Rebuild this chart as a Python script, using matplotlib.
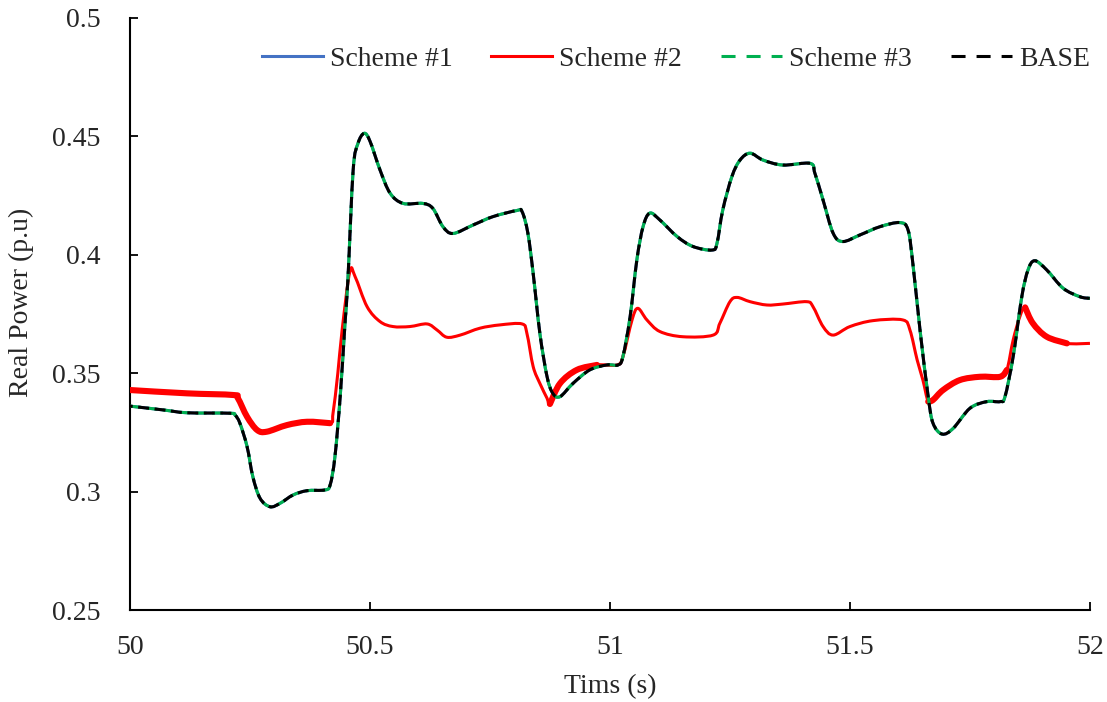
import numpy as np
import matplotlib
matplotlib.use("Agg")
import matplotlib.pyplot as plt
from matplotlib.ticker import FormatStrFormatter
from matplotlib.path import Path
from matplotlib.patches import PathPatch
from matplotlib.lines import Line2D

# time (s) and real power (p.u)
t_base = [50.000, 50.069, 50.119, 50.208, 50.219, 50.229, 50.244, 50.256, 50.271, 50.292,
          50.313, 50.340, 50.369, 50.406, 50.417, 50.427, 50.438, 50.448, 50.454, 50.465,
          50.475, 50.488, 50.500, 50.521, 50.542, 50.569, 50.610, 50.631, 50.652, 50.673,
          50.715, 50.756, 50.806, 50.817, 50.829, 50.840, 50.854, 50.869, 50.881, 50.896,
          50.923, 50.958, 50.994, 51.017, 51.027, 51.042, 51.056, 51.069, 51.083, 51.104,
          51.140, 51.173, 51.213, 51.223, 51.235, 51.254, 51.271, 51.292, 51.319, 51.360,
          51.417, 51.427, 51.444, 51.465, 51.485, 51.521, 51.563, 51.604, 51.621, 51.631,
          51.646, 51.663, 51.673, 51.692, 51.715, 51.750, 51.785, 51.813, 51.823, 51.840,
          51.858, 51.871, 51.885, 51.910, 51.944, 51.979, 52.000]
p_base = [0.3361, 0.3345, 0.3333, 0.3331, 0.3323, 0.3289, 0.3190, 0.3063, 0.2972, 0.2936,
          0.2951, 0.2986, 0.3004, 0.3007, 0.3028, 0.3147, 0.3401, 0.3711, 0.3894, 0.4358,
          0.4470, 0.4513, 0.4480, 0.4358, 0.4260, 0.4217, 0.4217, 0.4196, 0.4119, 0.4090,
          0.4126, 0.4161, 0.4187, 0.4182, 0.4091, 0.3922, 0.3668, 0.3485, 0.3415, 0.3401,
          0.3457, 0.3514, 0.3535, 0.3535, 0.3570, 0.3739, 0.3978, 0.4119, 0.4176, 0.4147,
          0.4077, 0.4035, 0.4020, 0.4049, 0.4189, 0.4330, 0.4400, 0.4429, 0.4400, 0.4379,
          0.4386, 0.4344, 0.4231, 0.4091, 0.4056, 0.4084, 0.4119, 0.4136, 0.4105, 0.3964,
          0.3682, 0.3401, 0.3289, 0.3243, 0.3267, 0.3352, 0.3380, 0.3380, 0.3401, 0.3570,
          0.3823, 0.3936, 0.3975, 0.3936, 0.3859, 0.3823, 0.3816]

# schemes 1 and 3 lie on top of the base case
p_s1 = p_base
p_s3 = p_base

t_s2 = [50.000, 50.119, 50.215, 50.225, 50.244, 50.265, 50.285, 50.327, 50.369, 50.417,
        50.423, 50.433, 50.442, 50.458, 50.469, 50.494, 50.521, 50.548, 50.583, 50.619,
        50.640, 50.660, 50.688, 50.729, 50.771, 50.817, 50.827, 50.840, 50.854, 50.869,
        50.875, 50.896, 50.931, 50.973, 51.015, 51.027, 51.046, 51.058, 51.077, 51.104,
        51.152, 51.215, 51.229, 51.250, 51.265, 51.292, 51.327, 51.360, 51.410, 51.423,
        51.444, 51.465, 51.500, 51.548, 51.610, 51.625, 51.640, 51.652, 51.663, 51.673,
        51.694, 51.729, 51.771, 51.813, 51.827, 51.840, 51.854, 51.865, 51.881, 51.910,
        51.952, 52.000]
p_s2 = [0.3429, 0.3415, 0.3408, 0.3394, 0.3316, 0.3260, 0.3253, 0.3281, 0.3295, 0.3289,
        0.3330, 0.3499, 0.3682, 0.3929, 0.3908, 0.3781, 0.3718, 0.3697, 0.3697, 0.3708,
        0.3682, 0.3652, 0.3661, 0.3690, 0.3704, 0.3708, 0.3668, 0.3528, 0.3457, 0.3394,
        0.3370, 0.3457, 0.3514, 0.3535, 0.3535, 0.3570, 0.3725, 0.3774, 0.3725, 0.3676,
        0.3654, 0.3661, 0.3711, 0.3802, 0.3820, 0.3802, 0.3788, 0.3792, 0.3802, 0.3781,
        0.3697, 0.3661, 0.3697, 0.3722, 0.3725, 0.3682, 0.3556, 0.3471, 0.3380, 0.3387,
        0.3429, 0.3471, 0.3485, 0.3485, 0.3514, 0.3640, 0.3739, 0.3778, 0.3711, 0.3654,
        0.3626, 0.3626]

# stretches where scheme #2 shows its fast ripple
ripple_spans = [(50.0, 50.417), (50.875, 50.973), (51.663, 51.827), (51.865, 51.952)]

labels = ['Scheme #1', 'Scheme #2', 'Scheme #3', 'BASE']
colors = ['#4472C4', '#FF0000', '#00B050', '#000000']


def smooth_path(x, y):
    # Excel style smoothed line: cubic bezier through every point
    pts = np.column_stack([x, y])
    n = len(pts)
    verts = [pts[0]]
    codes = [Path.MOVETO]
    for i in range(n - 1):
        p0 = pts[max(i - 1, 0)]
        p1 = pts[i]
        p2 = pts[i + 1]
        p3 = pts[min(i + 2, n - 1)]
        verts += [p1 + (p2 - p0) / 6, p2 - (p3 - p1) / 6, p2]
        codes += [Path.CURVE4] * 3
    return Path(verts, codes)


def draw(ax, x, y, color, lw, ls='-', z=2, cap='butt'):
    ax.add_patch(PathPatch(smooth_path(x, y), facecolor='none', edgecolor=color, lw=lw,
                           linestyle=ls, joinstyle='round', capstyle=cap, zorder=z))


plt.rcParams['font.family'] = ['Liberation Serif', 'DejaVu Serif']

fig = plt.figure(figsize=(11.07, 7.02), dpi=100)
ax = fig.add_axes([0.1174, 0.131, 0.8672, 0.8434])

lw = 2.2
dash = (3.6, 1.8)
draw(ax, t_base, p_s1, colors[0], lw, '-', 2)
draw(ax, t_s2, p_s2, colors[1], lw, '-', 3)
t2 = np.array(t_s2)
p2 = np.array(p_s2)
for a, b in ripple_spans:
    m = (t2 >= a) & (t2 <= b)
    draw(ax, t2[m], p2[m], colors[1], 4.4, '-', 3, cap='round')
draw(ax, t_base, p_s3, colors[2], lw, (0, dash), 4)
draw(ax, t_base, p_base, colors[3], lw, (2.7, dash), 5)

ax.set_xlim(50, 52)
ax.set_ylim(0.25, 0.5)
ax.set_xticks([50, 50.5, 51, 51.5, 52])
ax.set_yticks([0.25, 0.3, 0.35, 0.4, 0.45, 0.5])
ax.xaxis.set_major_formatter(FormatStrFormatter('%g'))
ax.yaxis.set_major_formatter(FormatStrFormatter('%g'))

for s in ['top', 'right']:
    ax.spines[s].set_visible(False)
for s in ['left', 'bottom']:
    ax.spines[s].set_linewidth(1.5)

ax.tick_params(direction='in', length=5.5, width=1.3, labelsize=20,
               color='black', labelcolor='#262626')
ax.tick_params(axis='x', pad=18)
ax.tick_params(axis='y', pad=21)

ax.set_xlabel('Tims (s)', fontsize=20, color='#262626')
ax.set_ylabel('Real Power (p.u)', fontsize=20, color='#262626')
ax.xaxis.set_label_coords(0.5, -0.108)
ax.yaxis.set_label_coords(-0.100, 0.52)

leg_dash = (4.6, 3.6)
handles = [Line2D([], [], color=colors[0], lw=lw),
           Line2D([], [], color=colors[1], lw=lw),
           Line2D([], [], color=colors[2], lw=lw, dashes=leg_dash),
           Line2D([], [], color=colors[3], lw=lw, dashes=leg_dash)]
fig.legend(handles, labels, loc='upper right', bbox_to_anchor=(1.007, 0.969), ncol=4,
           frameon=False, fontsize=20, handlelength=2.2, handletextpad=0.25,
           columnspacing=1.4, labelcolor='#262626')

fig.savefig('out.png', dpi=100)
